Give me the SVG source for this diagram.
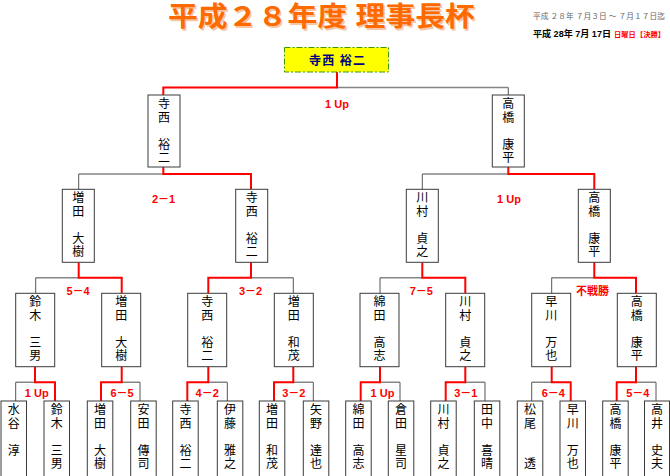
<svg xmlns="http://www.w3.org/2000/svg" width="670" height="476" viewBox="0 0 670 476">
<style>
.bg{fill:#fff}
.box{fill:#fff;stroke:#3a3a3a;stroke-width:1}
.nm{font-family:"Noto Sans CJK JP","Noto Sans CJK SC",sans-serif;font-size:12px;fill:#000;writing-mode:vertical-rl;letter-spacing:1.5px}
.sc{font-family:"Liberation Sans","Noto Sans CJK JP",sans-serif;font-size:11px;font-weight:bold;fill:#f00;text-anchor:middle}
.w{stroke:#f00;stroke-width:2;fill:none}
.lh{stroke:#858585;stroke-width:1.6;fill:none}
.lv{stroke:#555;stroke-width:1;fill:none}
.tt{font-family:"Liberation Sans","Noto Sans CJK JP",sans-serif;font-size:27px;font-weight:bold}
</style>
<rect class="bg" x="0" y="0" width="670" height="476"/>
<g id="title">
<text class="tt" x="169.5" y="27.5" fill="#f6c7a6" textLength="307" lengthAdjust="spacingAndGlyphs">平成２８年度 理事長杯</text>
<text class="tt" x="168" y="26" fill="#ff6a00" textLength="307" lengthAdjust="spacingAndGlyphs">平成２８年度 理事長杯</text>
</g>
<g id="period">
<text x="533" y="18.5" font-family="Liberation Serif,Noto Sans CJK JP,serif" font-size="7.7" fill="#666" textLength="132" lengthAdjust="spacing">平成 ２８年 ７月３日 ～ ７月１７日迄</text>
<text x="533" y="37" font-family="Liberation Sans,Noto Sans CJK JP,sans-serif" font-size="9" font-weight="bold" fill="#000" textLength="78" lengthAdjust="spacingAndGlyphs">平成 28年 7月 17日</text>
<text x="614" y="37" font-family="Liberation Sans,Noto Sans CJK JP,sans-serif" font-size="7.2" font-weight="bold" fill="#f00" textLength="51" lengthAdjust="spacing">日曜日【決勝】</text>
</g>
<g id="connectors">
<path class="lh" d="M337,87.5H508.3 M163.3,174H78.7 M508.3,174H422.3 M78.7,277.7H35.7 M251,277.7H293.3 M422.3,277.7H380 M594.3,277.7H551.7 M35,382.3H15.7 M121.7,382.3H140 M208.3,382.3H227.3 M293.3,382.3H313.3 M380,382.3H400 M465.3,382.3H485 M551.7,382.3H531.7 M636,382.3H656"/>
<path class="lv" d="M508.3,87.5V95 M78.7,174V189.3 M422.3,174V189.3 M35.7,277.7V293.3 M293.3,277.7V293.3 M380,277.7V293.3 M551.7,277.7V293.3 M15.7,382.3V401 M140,382.3V401 M227.3,382.3V401 M313.3,382.3V401 M400,382.3V401 M485,382.3V401 M531.7,382.3V401 M656,382.3V401"/>
<path class="w" d="M337,72V87.5H163.3V95 M163.3,167V174H251V189.3 M508.3,167V174H594.3V189.3 M78.7,262.3V277.7H121.7V293.3 M251,262.3V277.7H208.3V293.3 M422.3,262.3V277.7H465.3V293.3 M594.3,262.3V277.7H636V293.3 M35,366.7V382.3H55V401 M121.7,366.7V382.3H101V401 M208.3,366.7V382.3H187.3V401 M293.3,366.7V382.3H274V401 M380,366.7V382.3H360.7V401 M465.3,366.7V382.3H445.7V401 M551.7,366.7V382.3H570.7V401 M636,366.7V382.3H616.7V401"/>
</g>
<g id="scores">
<text class="sc" x="337" y="108">1 Up</text>
<text class="sc" x="163.5" y="203">2－1</text>
<text class="sc" x="509" y="203">1 Up</text>
<text class="sc" x="78" y="295">5－4</text>
<text class="sc" x="250.5" y="295">3－2</text>
<text class="sc" x="421.3" y="295">7－5</text>
<text class="sc" x="592.5" y="295">不戦勝</text>
<text class="sc" x="36.7" y="397">1 Up</text>
<text class="sc" x="122" y="397">6－5</text>
<text class="sc" x="207.2" y="397">4－2</text>
<text class="sc" x="293.8" y="397">3－2</text>
<text class="sc" x="382.5" y="397">1 Up</text>
<text class="sc" x="465.8" y="397">3－1</text>
<text class="sc" x="553.3" y="397">6－4</text>
<text class="sc" x="637.8" y="397">5－4</text>
</g>
<g id="champion">
<rect x="284.5" y="47.5" width="104" height="24.5" fill="#ffff00" stroke="#3a9a00" stroke-width="1" stroke-dasharray="6 2 2 2"/>
<text x="309" y="65" font-family="Noto Sans CJK JP,sans-serif" font-size="12" font-weight="bold" fill="#000080" textLength="56" lengthAdjust="spacing">寺西 裕二</text>
</g>
<g id="sf1"><rect class="box" x="148" y="95" width="32" height="72"/><text class="nm" x="164" y="97.5">寺西　裕二</text></g>
<g id="sf2"><rect class="box" x="492.3" y="95" width="32" height="72"/><text class="nm" x="508.3" y="97.5">高橋　康平</text></g>
<g id="qf1"><rect class="box" x="62.3" y="189.3" width="32" height="73"/><text class="nm" x="78.3" y="191.8">増田　大樹</text></g>
<g id="qf2"><rect class="box" x="235.7" y="189.3" width="32" height="73"/><text class="nm" x="251.7" y="191.8">寺西　裕二</text></g>
<g id="qf3"><rect class="box" x="406.3" y="189.3" width="32" height="73"/><text class="nm" x="422.3" y="191.8">川村　貞之</text></g>
<g id="qf4"><rect class="box" x="578.3" y="189.3" width="32" height="73"/><text class="nm" x="594.3" y="191.8">高橋　康平</text></g>
<g id="r1"><rect class="box" x="15.7" y="293.3" width="39" height="73.4"/><text class="nm" x="35.2" y="295.8">鈴木　三男</text></g>
<g id="r2"><rect class="box" x="101.7" y="293.3" width="39" height="73.4"/><text class="nm" x="121.2" y="295.8">増田　大樹</text></g>
<g id="r3"><rect class="box" x="187.7" y="293.3" width="39" height="73.4"/><text class="nm" x="207.2" y="295.8">寺西　裕二</text></g>
<g id="r4"><rect class="box" x="274.3" y="293.3" width="39" height="73.4"/><text class="nm" x="293.8" y="295.8">増田　和茂</text></g>
<g id="r5"><rect class="box" x="360" y="293.3" width="39" height="73.4"/><text class="nm" x="379.5" y="295.8">綿田　高志</text></g>
<g id="r6"><rect class="box" x="445.7" y="293.3" width="39" height="73.4"/><text class="nm" x="465.2" y="295.8">川村　貞之</text></g>
<g id="r7"><rect class="box" x="531.7" y="293.3" width="39" height="73.4"/><text class="nm" x="551.2" y="295.8">早川　万也</text></g>
<g id="r8"><rect class="box" x="617.3" y="293.3" width="39" height="73.4"/><text class="nm" x="636.8" y="295.8">高橋　康平</text></g>
<g id="p1"><rect class="box" x="1" y="401" width="25.5" height="80"/><text class="nm" x="13.8" y="403.5">水谷　淳</text></g>
<g id="p2"><rect class="box" x="44" y="401" width="25.5" height="80"/><text class="nm" x="56.8" y="403.5">鈴木　三男</text></g>
<g id="p3"><rect class="box" x="87.3" y="401" width="25.5" height="80"/><text class="nm" x="100.1" y="403.5">増田　大樹</text></g>
<g id="p4"><rect class="box" x="130.7" y="401" width="25.5" height="80"/><text class="nm" x="143.5" y="403.5">安田　傳司</text></g>
<g id="p5"><rect class="box" x="172.7" y="401" width="25.5" height="80"/><text class="nm" x="185.5" y="403.5">寺西　裕二</text></g>
<g id="p6"><rect class="box" x="217.3" y="401" width="25.5" height="80"/><text class="nm" x="230.1" y="403.5">伊藤　雅之</text></g>
<g id="p7"><rect class="box" x="259.3" y="401" width="25.5" height="80"/><text class="nm" x="272.1" y="403.5">増田　和茂</text></g>
<g id="p8"><rect class="box" x="303.3" y="401" width="25.5" height="80"/><text class="nm" x="316.1" y="403.5">矢野　達也</text></g>
<g id="p9"><rect class="box" x="345.7" y="401" width="25.5" height="80"/><text class="nm" x="358.5" y="403.5">綿田　高志</text></g>
<g id="p10"><rect class="box" x="388.3" y="401" width="25.5" height="80"/><text class="nm" x="401.1" y="403.5">倉田　星司</text></g>
<g id="p11"><rect class="box" x="430.7" y="401" width="25.5" height="80"/><text class="nm" x="443.5" y="403.5">川村　貞之</text></g>
<g id="p12"><rect class="box" x="474.3" y="401" width="25.5" height="80"/><text class="nm" x="487.1" y="403.5">田中　喜晴</text></g>
<g id="p13"><rect class="box" x="517.3" y="401" width="25.5" height="80"/><text class="nm" x="530.1" y="403.5">松尾　　透</text></g>
<g id="p14"><rect class="box" x="560" y="401" width="25.5" height="80"/><text class="nm" x="572.8" y="403.5">早川　万也</text></g>
<g id="p15"><rect class="box" x="602.7" y="401" width="25.5" height="80"/><text class="nm" x="615.5" y="403.5">高橋　康平</text></g>
<g id="p16"><rect class="box" x="644.5" y="401" width="25" height="80"/><text class="nm" x="657" y="403.5">高井　史夫</text></g>
</svg>
